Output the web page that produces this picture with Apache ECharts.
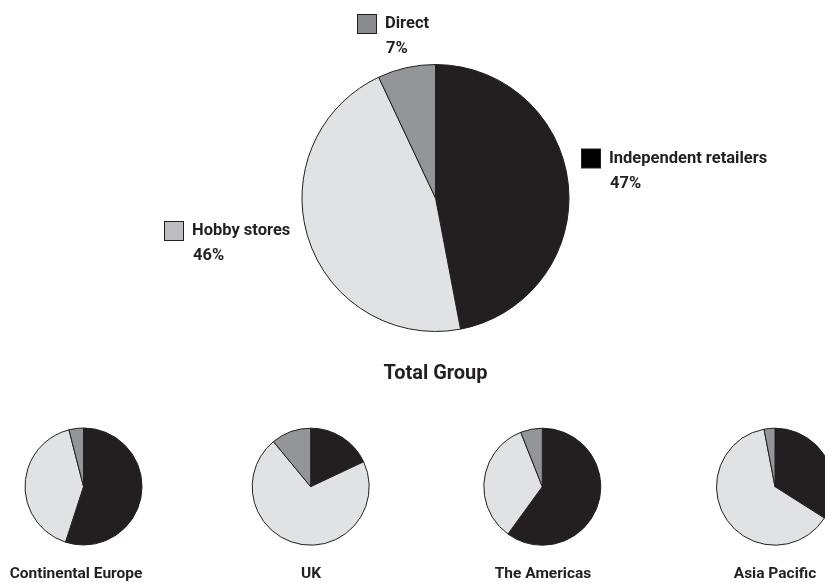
<!DOCTYPE html>
<html>
<head>
<meta charset="utf-8">
<style>
  html, body { margin: 0; padding: 0; background: #fff; }
  #chart { width: 825px; height: 583px; }
</style>
<script src="https://cdn.jsdelivr.net/npm/echarts@6/dist/echarts.min.js"></script>
</head>
<body>
<div id="chart"></div>
<script>
// Sales channel split, percentages
const channels = ['Independent retailers', 'Hobby stores', 'Direct'];
const totalGroup = [47, 46, 7];

const regions = ['Continental Europe', 'UK', 'The Americas', 'Asia Pacific'];
const independentByRegion = [55, 18, 60, 34];
const hobbyByRegion = [41, 71, 34, 63];
const directByRegion = [4, 11, 6, 3];

const sliceColors = ['#231f20', '#e1e2e4', '#939598'];
const swatchColors = ['#000000', '#bcbdc0', '#8a8b8e'];
const ink = '#231f20';
const fontFamily = 'Roboto, "DejaVu Sans", sans-serif';

// top-left corners of the channel labels around the big pie
const labelAnchors = [[582, 146], [165, 218.5], [358, 11.5]];

// region pie centres
const regionCenters = [[83.5, 486.5], [310.7, 486.7], [542.3, 486.7], [775, 486.7]];
const regionTitleX = [76, 311, 543, 775];

const chart = echarts.init(document.getElementById('chart'), null, { renderer: 'canvas' });

const baseSlice = { borderColor: ink, borderWidth: 1 };

const totalData = channels.map((name, i) => ({
  name: name,
  value: totalGroup[i],
  itemStyle: Object.assign({ color: sliceColors[i] }, baseSlice),
  label: {
    rich: {
      box: { width: 18, height: 18, lineHeight: 25, backgroundColor: swatchColors[i], borderColor: ink, borderWidth: 1 },
      pad: { width: 28, lineHeight: 25 },
      name: { fontFamily: fontFamily, fontWeight: 'bold', fontSize: 16.5, color: ink, lineHeight: 25, padding: [0, 0, 0, 9] },
      pct: { fontFamily: fontFamily, fontWeight: 'bold', fontSize: 16.5, color: ink, lineHeight: 25 }
    }
  }
}));

const series = [{
  type: 'pie',
  center: [435.5, 198],
  radius: 133.5,
  startAngle: 90,
  clockwise: true,
  silent: true,
  animation: false,
  data: totalData,
  label: {
    show: true,
    position: 'outside',
    formatter: '{box|}{name|{b}}\n{pad|}{pct|{c}%}'
  },
  labelLine: { show: false },
  labelLayout: function (params) {
    const p = labelAnchors[params.dataIndex];
    return { x: p[0], y: p[1], align: 'left', verticalAlign: 'top' };
  }
}];

regions.forEach((region, r) => {
  const vals = [independentByRegion[r], hobbyByRegion[r], directByRegion[r]];
  series.push({
    type: 'pie',
    name: region,
    center: regionCenters[r],
    radius: 58.5,
    startAngle: 90,
    clockwise: true,
    silent: true,
    animation: false,
    label: { show: false },
    labelLine: { show: false },
    data: channels.map((name, i) => ({
      name: name,
      value: vals[i],
      itemStyle: Object.assign({ color: sliceColors[i] }, baseSlice)
    }))
  });
});

const regionTitleStyle = { fontFamily: fontFamily, fontWeight: 'bold', fontSize: 15.5, color: ink };
const titles = [{
  text: 'Total Group', left: 435.5, top: 364, textAlign: 'center', padding: 0,
  textStyle: { fontFamily: fontFamily, fontWeight: 'bold', fontSize: 20, color: ink }
}];
regions.forEach((region, r) => {
  titles.push({ text: region, left: regionTitleX[r], top: 566.5, textAlign: 'center', textStyle: regionTitleStyle, padding: 0 });
});

chart.setOption({
  backgroundColor: '#ffffff',
  animation: false,
  title: titles,
  series: series
});
</script>
</body>
</html>
